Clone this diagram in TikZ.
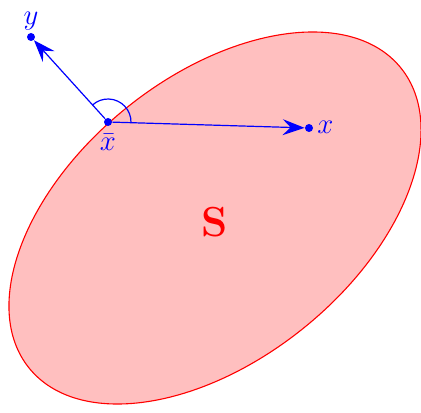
\documentclass[tikz,border=0pt]{standalone}
\usetikzlibrary{arrows.meta,angles}
\begin{document}
\begin{tikzpicture}[x=0.5pt,y=0.5pt,
  dot/.style={circle,fill=blue,inner sep=0pt,minimum size=4pt},
  vec/.style={blue,line width=0.6pt,-{Stealth[length=11pt,width=8pt,inset=4pt]}},
  lab/.style={blue,font=\fontsize{15}{17}\selectfont,inner sep=0pt}]
\useasboundingbox (0,0) rectangle (421,412);
\draw[red,fill=red!25,line width=0.55pt,rotate around={38.9:(215,194)}] (215,194) ellipse [x radius=238.9, y radius=141.3];
\node[red,font=\fontsize{21}{24}\selectfont\bfseries] (S) at (215,190) {S};
\node[dot] (xb) at (108,290) {};
\node[dot] (x) at (309,284) {};
\node[dot] (y) at (31,375) {};
\draw[vec] (xb) -- (x);
\draw[vec] (xb) -- (y);
\draw[blue,line width=0.6pt] pic[draw,angle radius=11.5pt] {angle = x--xb--y};
\node[lab,anchor=west] (xl) at (317,285) {$x$};
\node[lab,anchor=south] (yl) at (31,381) {$y$};
\node[lab] (xbl) at (108,270) {$\bar{x}$};
\end{tikzpicture}
\end{document}
